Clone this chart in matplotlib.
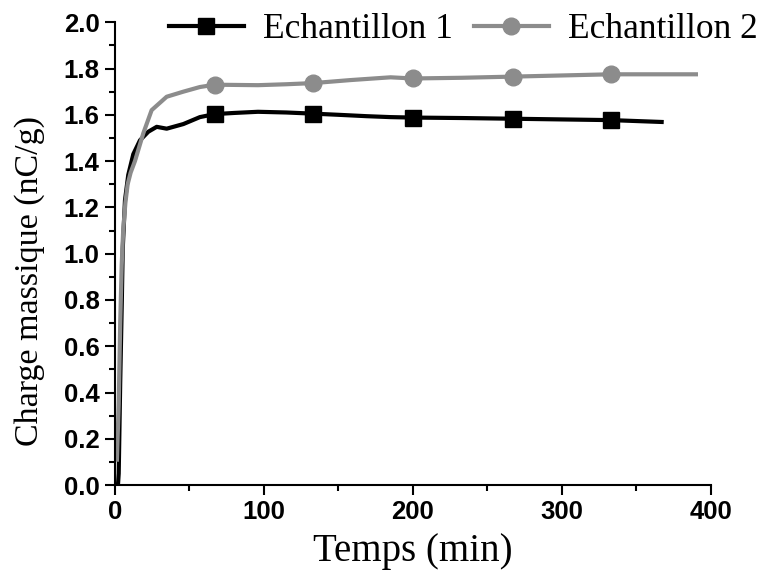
import numpy as np
import matplotlib.pyplot as plt
from matplotlib.ticker import MultipleLocator

# Traced data
x1 = [0, 2.0, 2.5, 3.5, 4.6, 5.2, 6.7, 8.9, 12.3, 16.8, 22.4, 28, 34.7, 45.9, 57, 67,
      80, 96, 115, 133, 150, 169, 185, 200, 233, 267, 300, 333, 367]
y1 = [0.0, 0.0, 0.05, 0.44, 0.80, 1.02, 1.23, 1.34, 1.43, 1.49, 1.527, 1.548, 1.54, 1.56,
      1.59, 1.603, 1.608, 1.613, 1.61, 1.605, 1.60, 1.594, 1.59, 1.588, 1.586, 1.583,
      1.58, 1.577, 1.569]

x2 = [1.3, 2.5, 3.5, 4.5, 5.5, 7, 8.5, 10.5, 13.4, 19, 24.6, 34.7, 45.9, 57, 67, 96,
      115, 133, 158, 185, 200, 233, 267, 300, 333, 360, 390]
y2 = [0.11, 0.35, 0.70, 0.95, 1.10, 1.22, 1.30, 1.35, 1.40, 1.52, 1.62, 1.678, 1.70,
      1.72, 1.73, 1.728, 1.732, 1.737, 1.75, 1.762, 1.757, 1.76, 1.765, 1.77, 1.775,
      1.775, 1.775]

marker_x = [67, 133, 200, 267, 333]
labels = ['Echantillon 1', 'Echantillon 2']

serif = 'Liberation Serif'
sans = 'Liberation Sans'

fig = plt.figure(figsize=(7.59, 5.70), dpi=100)
ax = fig.add_axes([0.1515, 0.149, 0.785, 0.812])

m1 = list(np.where(np.isin(x1, marker_x))[0])
m2 = list(np.where(np.isin(x2, marker_x))[0])
ax.plot(x1, y1, color='black', lw=3, marker='s', ms=11, markevery=m1, label=labels[0])
ax.plot(x2, y2, color='#8c8c8c', lw=3, marker='o', ms=12, markevery=m2, label=labels[1])

ax.set_xlim(0, 400)
ax.set_ylim(0, 2.0)
ax.xaxis.set_major_locator(MultipleLocator(100))
ax.xaxis.set_minor_locator(MultipleLocator(50))
ax.yaxis.set_major_locator(MultipleLocator(0.2))
ax.yaxis.set_minor_locator(MultipleLocator(0.1))
ax.yaxis.set_major_formatter(plt.FormatStrFormatter('%.1f'))

for s in ['top', 'right']:
    ax.spines[s].set_visible(False)
for s in ['left', 'bottom']:
    ax.spines[s].set_linewidth(1.5)
ax.tick_params(which='major', direction='out', length=7, width=1.5, pad=4)
ax.tick_params(which='minor', direction='out', length=4, width=1.5)
for lab in ax.get_xticklabels() + ax.get_yticklabels():
    lab.set_fontfamily(sans)
    lab.set_fontweight('bold')
    lab.set_fontsize(18.5)

ax.set_xlabel('Temps (min)', fontfamily=serif, fontsize=28, labelpad=6)
ax.set_ylabel('Charge massique (nC/g)', fontfamily=serif, fontsize=24.5)
ax.yaxis.set_label_coords(-0.118, 0.44)

fig.legend(loc='center left', bbox_to_anchor=(0.223, 0.948), ncol=2, frameon=False,
           prop={'family': serif, 'size': 25.5}, handlelength=2.1, handletextpad=0.55,
           columnspacing=0.6, borderpad=0, borderaxespad=0)

fig.savefig('out.png', dpi=100)
